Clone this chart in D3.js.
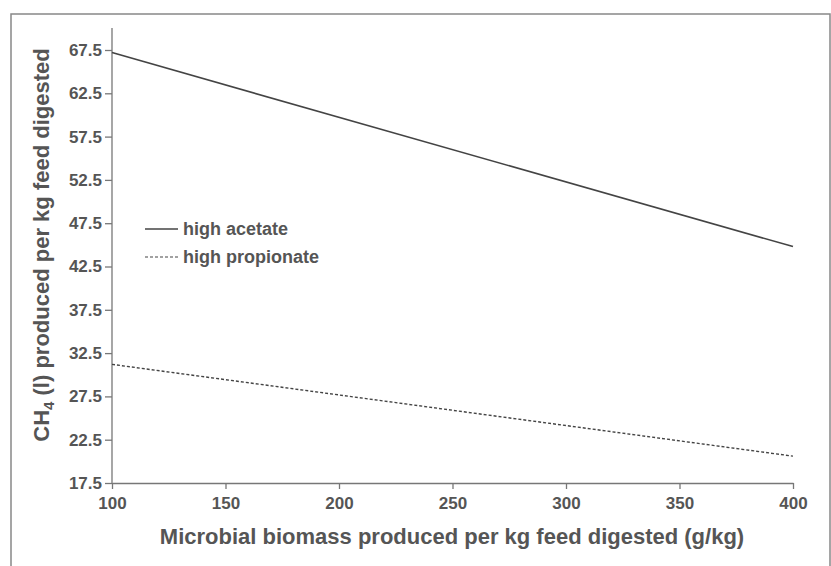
<!DOCTYPE html>
<html>
<head>
    <script src="https://d3js.org/d3.v7.min.js"></script>
    <style>
        body { margin: 0; background: #fff; }
        text { font-family: Arial, "Liberation Sans", sans-serif; }
    </style>
</head>
<body>
    <svg width="831" height="566"></svg>
    <script>
    // values
    const xValues = [100, 400];
    const acetate = [67.2, 44.8];
    const propionate = [31.2, 20.6];
    const yTicks = [17.5, 22.5, 27.5, 32.5, 37.5, 42.5, 47.5, 52.5, 57.5, 62.5, 67.5];
    const xTicks = [100, 150, 200, 250, 300, 350, 400];
    const seriesNames = ["high acetate", "high propionate"];

    const svg = d3.select("svg");

    // outer frame
    svg.append("path")
        .attr("d", "M11,566 V14 H830 V566")
        .style("fill", "none")
        .style("stroke", "#888")
        .style("stroke-width", 1.5);

    const x = d3.scaleLinear().domain([100, 400]).range([112, 793]);
    const y = d3.scaleLinear().domain([17.5, 67.5]).range([483, 50]);

    // y axis
    const yAxis = svg.append("g")
        .attr("transform", "translate(112,0)")
        .call(d3.axisLeft(y).tickValues(yTicks).tickFormat(d3.format(".1f")).tickSize(7).tickSizeOuter(0));
    yAxis.select(".domain").attr("d", "M0,28 V483");

    // x axis
    const xAxis = svg.append("g")
        .attr("transform", "translate(0,483)")
        .call(d3.axisBottom(x).tickValues(xTicks).tickSize(6).tickSizeOuter(0));

    svg.selectAll(".domain, .tick line").style("stroke", "#777").style("stroke-width", 1.3);
    yAxis.selectAll("text")
        .attr("x", -10)
        .style("font-size", "17px").style("fill", "#555").style("font-weight", "bold");
    xAxis.selectAll("text")
        .attr("y", 14)
        .style("font-size", "17px").style("fill", "#555").style("font-weight", "bold");

    // lines
    const line = d3.line().x(d => x(d[0])).y(d => y(d[1]));
    svg.append("path")
        .datum(xValues.map((v, i) => [v, acetate[i]]))
        .attr("d", line)
        .style("fill", "none").style("stroke", "#444").style("stroke-width", 1.6);
    svg.append("path")
        .datum(xValues.map((v, i) => [v, propionate[i]]))
        .attr("d", line)
        .style("fill", "none").style("stroke", "#444").style("stroke-width", 1.4)
        .style("stroke-dasharray", "3,2");

    // legend
    const legend = svg.append("g");
    seriesNames.forEach((name, i) => {
        const ly = 229 + i * 28;
        legend.append("line")
            .attr("x1", 145).attr("x2", 178).attr("y1", ly).attr("y2", ly)
            .style("stroke", "#444").style("stroke-width", i === 0 ? 1.6 : 1.2)
            .style("stroke-dasharray", i === 0 ? null : "3,2");
        legend.append("text")
            .attr("x", 183).attr("y", ly + 6)
            .style("font-size", "18px").style("font-weight", "bold").style("fill", "#555")
            .text(name);
    });

    // axis titles
    svg.append("text")
        .attr("x", 452).attr("y", 544)
        .attr("text-anchor", "middle")
        .style("font-size", "22px").style("font-weight", "bold").style("fill", "#555")
        .text("Microbial biomass produced per kg feed digested (g/kg)");

    const yTitle = svg.append("text")
        .attr("transform", "translate(49,245) rotate(-90)")
        .attr("text-anchor", "middle")
        .style("font-size", "22px").style("font-weight", "bold").style("fill", "#555");
    yTitle.append("tspan").text("CH");
    yTitle.append("tspan").attr("dy", 5).style("font-size", "15px").text("4");
    yTitle.append("tspan").attr("dy", -5).text(" (l) produced per kg feed digested");
    </script>
</body>
</html>
